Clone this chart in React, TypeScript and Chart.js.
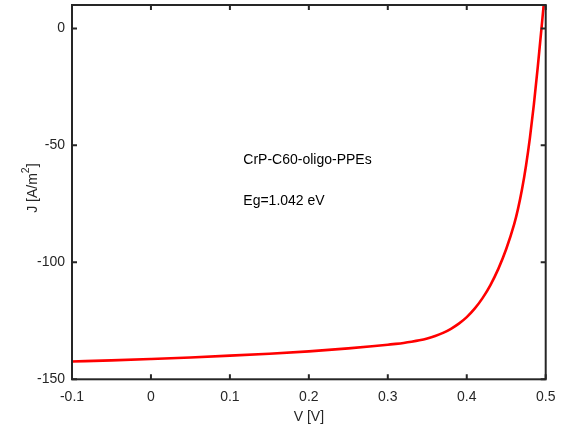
import React, { useEffect, useRef } from "react";
import { Chart, registerables } from "chart.js";

Chart.register(...registerables);

const voltage = [-0.1, -0.05, 0, 0.05, 0.1, 0.15, 0.2, 0.25, 0.28, 0.3, 0.31, 0.32, 0.33, 0.34, 0.35, 0.36, 0.37, 0.38, 0.39, 0.4, 0.41, 0.42, 0.43, 0.44, 0.45, 0.46, 0.465, 0.47, 0.475, 0.48, 0.485, 0.49, 0.495, 0.5];
const current = [-142.4, -141.9, -141.3, -140.65, -139.9, -139.05, -138.05, -136.8, -135.9, -135.2, -134.85, -134.45, -133.95, -133.35, -132.55, -131.5, -130.15, -128.4, -126.2, -123.4, -119.8, -115.3, -109.7, -102.8, -94.3, -83.8, -77.05, -68.8, -58.8, -46.8, -32.55, -16.3, 1.2, 19.2];

const xTicks = [-0.1, 0, 0.1, 0.2, 0.3, 0.4, 0.5];
const xTickLabels = ["-0.1", "0", "0.1", "0.2", "0.3", "0.4", "0.5"];
const yTicks = [-150, -100, -50, 0];
const yTickLabels = ["-150", "-100", "-50", "0"];

const xTitle = "V [V]";
const yTitleParts = ["J [A/m", "2", "]"];

const noteX = [0.117, 0.117];
const noteY = [-56.4, -73.9];
const noteText = ["CrP-C60-oligo-PPEs", "Eg=1.042 eV"];

const FONT = "'Liberation Sans', Arial, Helvetica, sans-serif";
const AXIS_COLOR = "#262626";

const framePlugin = {
  id: "matlabFrame",
  afterDatasetsDraw(chart: any) {
    const { ctx, chartArea, scales } = chart;
    const { left, right, top, bottom } = chartArea;
    ctx.save();
    // annotations
    ctx.fillStyle = "#000000";
    ctx.font = `14px ${FONT}`;
    ctx.textAlign = "left";
    ctx.textBaseline = "middle";
    for (let i = 0; i < noteText.length; i++) {
      ctx.fillText(noteText[i], scales.x.getPixelForValue(noteX[i]), scales.y.getPixelForValue(noteY[i]));
    }
    // ticks inside
    ctx.strokeStyle = AXIS_COLOR;
    ctx.lineWidth = 2;
    const tl = 5;
    ctx.beginPath();
    for (const v of xTicks) {
      const px = scales.x.getPixelForValue(v);
      ctx.moveTo(px, bottom);
      ctx.lineTo(px, bottom - tl);
      ctx.moveTo(px, top);
      ctx.lineTo(px, top + tl);
    }
    for (const v of yTicks) {
      const py = scales.y.getPixelForValue(v);
      ctx.moveTo(left, py);
      ctx.lineTo(left + tl, py);
      ctx.moveTo(right, py);
      ctx.lineTo(right - tl, py);
    }
    ctx.stroke();
    ctx.strokeRect(left, top, right - left, bottom - top);

    // y-axis title with superscript
    const mainFont = `14px ${FONT}`;
    const supFont = `10.5px ${FONT}`;
    ctx.fillStyle = AXIS_COLOR;
    ctx.textBaseline = "alphabetic";
    ctx.textAlign = "left";
    ctx.font = mainFont;
    const w0 = ctx.measureText(yTitleParts[0]).width;
    const w2 = ctx.measureText(yTitleParts[2]).width;
    ctx.font = supFont;
    const w1 = ctx.measureText(yTitleParts[1]).width;
    const total = w0 + w1 + w2;
    const cy = (top + bottom) / 2 - 4;
    ctx.translate(36.5, cy);
    ctx.rotate(-Math.PI / 2);
    let x = -total / 2;
    ctx.font = mainFont;
    ctx.fillText(yTitleParts[0], x, 0);
    x += w0;
    ctx.font = supFont;
    ctx.fillText(yTitleParts[1], x, -8);
    x += w1;
    ctx.font = mainFont;
    ctx.fillText(yTitleParts[2], x, 0);
    ctx.restore();
  },
};

export default function App() {
  const canvasRef = useRef<HTMLCanvasElement | null>(null);

  useEffect(() => {
    const canvas = canvasRef.current;
    if (!canvas) return;
    const chart = new Chart(canvas, {
      type: "line",
      data: {
        datasets: [
          {
            data: voltage.map((v, i) => ({ x: v, y: current[i] })),
            borderColor: "#ff0000",
            borderWidth: 2.6,
            pointRadius: 0,
            cubicInterpolationMode: "monotone",
            fill: false,
            clip: 0,
          } as any,
        ],
      },
      options: {
        responsive: false,
        animation: false,
        layout: { padding: { top: 5, right: 17.3, left: 0, bottom: 0 } },
        plugins: { legend: { display: false }, tooltip: { enabled: false } },
        scales: {
          x: {
            type: "linear",
            position: "bottom",
            min: -0.1,
            max: 0.5,
            grid: { display: false, drawTicks: false },
            border: { display: false },
            afterBuildTicks: (scale: any) => {
              scale.ticks = xTicks.map((v) => ({ value: v }));
            },
            afterFit: (scale: any) => {
              scale.height = 52.7;
              scale.paddingLeft = 0;
              scale.paddingRight = 0;
            },
            ticks: {
              autoSkip: false,
              maxRotation: 0,
              padding: 9,
              color: AXIS_COLOR,
              font: { family: FONT, size: 14 },
              callback: (_v: any, i: number) => xTickLabels[i],
            },
            title: {
              display: true,
              text: xTitle,
              color: AXIS_COLOR,
              font: { family: FONT, size: 14 },
              padding: { top: 0, bottom: 6 },
            },
          },
          y: {
            type: "linear",
            position: "left",
            min: -150,
            max: 10,
            grid: { display: false, drawTicks: false },
            border: { display: false },
            afterBuildTicks: (scale: any) => {
              scale.ticks = yTicks.map((v) => ({ value: v }));
            },
            afterFit: (scale: any) => {
              scale.width = 72;
              scale.paddingTop = 0;
              scale.paddingBottom = 0;
            },
            ticks: {
              autoSkip: false,
              padding: 7,
              color: AXIS_COLOR,
              font: { family: FONT, size: 14 },
              callback: (_v: any, i: number) => yTickLabels[i],
            },
            title: { display: false },
          },
        },
      },
      plugins: [framePlugin],
    });
    return () => chart.destroy();
  }, []);

  return (
    <div style={{ position: "absolute", left: 0, top: 0, width: 563, height: 432, background: "#ffffff" }}>
      <canvas ref={canvasRef} width={563} height={432} style={{ display: "block" }} />
    </div>
  );
}
